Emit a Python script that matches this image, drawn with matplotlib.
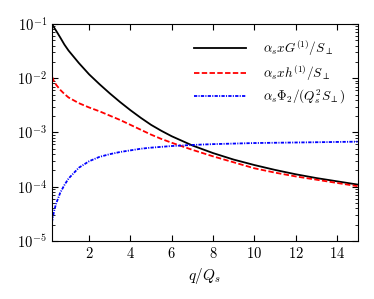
import numpy as np
import matplotlib
matplotlib.use('Agg')
import matplotlib.pyplot as plt

plt.rcParams['mathtext.fontset'] = 'cm'
plt.rcParams['font.family'] = 'serif'
plt.rcParams['font.serif'] = ['cmr10', 'DejaVu Serif']
plt.rcParams['axes.formatter.use_mathtext'] = True

# q/Q_s sample points and log10 of each curve
q = [0.2, 0.3, 0.4, 0.6, 0.8, 1.0, 1.5, 2.0, 2.5, 3.0, 3.5, 4.0, 4.5, 5.0, 5.5, 6.0,
     7.0, 8.0, 9.0, 10.0, 11.0, 12.0, 13.0, 14.0, 15.0]
logG = [-1.00, -1.065, -1.125, -1.25, -1.38, -1.49, -1.72, -1.93, -2.11, -2.28, -2.44, -2.59,
        -2.73, -2.86, -2.97, -3.07, -3.24, -3.38, -3.50, -3.60, -3.69, -3.77, -3.84, -3.90, -3.96]
logh = [-1.97, -2.06, -2.12, -2.215, -2.29, -2.355, -2.46, -2.54, -2.61, -2.69, -2.77, -2.86,
        -2.95, -3.04, -3.12, -3.19, -3.32, -3.44, -3.55, -3.66, -3.74, -3.81, -3.87, -3.93, -3.99]
logPhi = [-4.65, -4.45, -4.31, -4.11, -3.97, -3.85, -3.65, -3.53, -3.45, -3.40, -3.36, -3.33,
          -3.30, -3.28, -3.265, -3.25, -3.23, -3.215, -3.205, -3.195, -3.19, -3.185, -3.18,
          -3.175, -3.17]

fig = plt.figure(figsize=(3.74, 2.99), dpi=100)
ax = fig.add_axes([0.139, 0.194, 0.817, 0.726])

ax.semilogy(q, 10**np.array(logG), color='k', ls='-', lw=1.3,
            label=r'$\alpha_s x G^{(1)}/S_\perp$')
ax.semilogy(q, 10**np.array(logh), color='r', lw=1.3, dashes=[3.0, 1.3],
            label=r'$\alpha_s x h^{(1)}/S_\perp$')
ax.semilogy(q, 10**np.array(logPhi), color='b', lw=1.3, dashes=[1.8, 0.7, 0.6, 0.7],
            label=r'$\alpha_s \Phi_2/(Q_s^2 S_\perp)$')

ax.set_xlim(0.2, 15)
ax.set_ylim(1e-5, 1e-1)
ax.set_xticks([2, 4, 6, 8, 10, 12, 14])
ax.tick_params(which='both', direction='in', top=True, right=True, labelsize=10.5)
ax.tick_params(which='major', length=4)
ax.tick_params(which='minor', length=2)
ax.set_xlabel(r'$q/Q_s$', fontsize=11)

ax.legend(loc='upper right', frameon=False, fontsize=9.5, handlelength=3.9,
          handletextpad=1.3, labelspacing=0.4, bbox_to_anchor=(1.0, 0.99))

fig.savefig('out.png', dpi=100)
